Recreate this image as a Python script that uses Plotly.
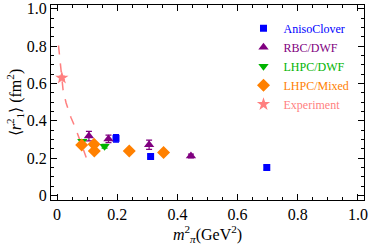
import plotly.graph_objects as go

# ---- data ----
aniso_x = [0.196, 0.311, 0.697]
aniso_y = [0.306, 0.209, 0.150]
aniso_e = [0.02, 0.008, 0.012]

rbc_x = [0.106, 0.171, 0.306, 0.445]
rbc_y = [0.318, 0.303, 0.272, 0.212]
rbc_e = [0.025, 0.02, 0.025, 0.01]

lhpc_dwf_x = [0.084, 0.158]
lhpc_dwf_y = [0.290, 0.264]
lhpc_dwf_e = [0.01, 0.01]

lhpc_mix_x = [0.082, 0.123, 0.124, 0.240, 0.354]
lhpc_mix_y = [0.270, 0.274, 0.239, 0.239, 0.230]
lhpc_mix_e = [0.01, 0.01, 0.01, 0.008, 0.008]

exp_x = [0.016]
exp_y = [0.630]
exp_e = [0.01]

fit_x = [0.005, 0.011, 0.016, 0.020, 0.030, 0.046, 0.062, 0.079, 0.097]
fit_y = [0.803, 0.707, 0.630, 0.567, 0.497, 0.419, 0.358, 0.288, 0.204]

x_ticks = [0, 0.2, 0.4, 0.6, 0.8, 1.0]
x_ticktext = ["0", "0.2", "0.4", "0.6", "0.8", "1.0"]
y_ticks = [0, 0.2, 0.4, 0.6, 0.8, 1.0]
y_ticktext = ["0", "0.2", "0.4", "0.6", "0.8", "1.0"]

BLUE = "#0000ff"
PURPLE = "#800080"
GREEN = "#00b400"
ORANGE = "#ff8000"
PINK = "#ff7f7f"

FONT = "Liberation Serif"

fig = go.Figure()

fig.add_trace(go.Scatter(x=fit_x, y=fit_y, mode="lines", showlegend=False,
                         line=dict(color=PINK, dash="dash", width=1.5)))

def add(xs, ys, es, name, color, symbol, size):
    fig.add_trace(go.Scatter(
        x=xs, y=ys, mode="markers",
        name='<span style="color:%s">%s</span>' % (color, name),
        marker=dict(color=color, symbol=symbol, size=size, line=dict(width=0)),
        error_y=dict(type="data", array=es, color=color, thickness=1.2, width=3),
    ))

add(aniso_x, aniso_y, aniso_e, "AnisoClover", BLUE, "square", 7)
add(rbc_x, rbc_y, rbc_e, "RBC/DWF", PURPLE, "triangle-up", 9)
add(lhpc_dwf_x, lhpc_dwf_y, lhpc_dwf_e, "LHPC/DWF", GREEN, "triangle-down", 9)
add(lhpc_mix_x, lhpc_mix_y, lhpc_mix_e, "LHPC/Mixed", ORANGE, "diamond", 10)
add(exp_x, exp_y, exp_e, "Experiment", PINK, "star", 10)

axis_common = dict(
    showline=True, linecolor="black", linewidth=1, mirror="allticks",
    ticks="inside", ticklen=6, tickcolor="black", tickwidth=1,
    showgrid=False, zeroline=False, automargin=False,
    ticklabeloverflow="allow",
    tickfont=dict(family=FONT, size=16, color="black"),
    minor=dict(ticks="inside", ticklen=3, tickcolor="black", dtick=0.05, showgrid=False),
)

fig.update_xaxes(range=[-0.02, 1.02], tickvals=x_ticks, ticktext=x_ticktext,
                 title=dict(text="<i>m</i><sup>2</sup><sub><i>π</i></sub>(GeV<sup>2</sup>)",
                            font=dict(family=FONT, size=16, color="black"), standoff=0),
                 **axis_common)
fig.update_yaxes(range=[-0.024, 1.02], tickvals=y_ticks, ticktext=y_ticktext,
                 title=dict(text="⟨<i>r</i><sup>2</sup><sub>1</sub>⟩ (fm<sup>2</sup>)",
                            font=dict(family=FONT, size=16, color="black"), standoff=1),
                 **axis_common)

fig.update_layout(
    width=374, height=248,
    margin=dict(l=51, r=10, t=5, b=48),
    paper_bgcolor="white", plot_bgcolor="white",
    font=dict(family=FONT, size=12),
    legend=dict(x=0.615, y=0.955, xanchor="left", yanchor="top",
                bgcolor="rgba(0,0,0,0)", font=dict(family=FONT, size=12),
                itemwidth=30, tracegroupgap=0),
)

fig.write_html("out.html", config={"displayModeBar": False},
               post_script="document.body.style.margin='0';")
